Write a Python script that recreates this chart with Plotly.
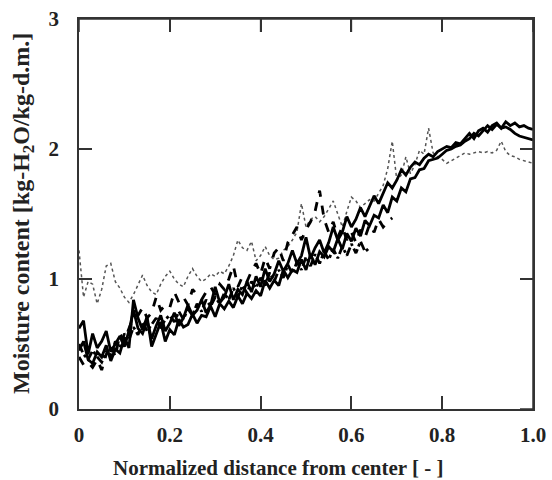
import plotly.graph_objects as go

# normalized distance from center (sampling grid of the profiles)
dist = [0.00, 0.01, 0.02, 0.03, 0.04, 0.05, 0.06, 0.07, 0.08, 0.09,
        0.10, 0.11, 0.12, 0.13, 0.14, 0.15, 0.16, 0.17, 0.18, 0.19,
        0.20, 0.21, 0.22, 0.23, 0.24, 0.25, 0.26, 0.27, 0.28, 0.29,
        0.30, 0.31, 0.32, 0.33, 0.34, 0.35, 0.36, 0.37, 0.38, 0.39,
        0.40, 0.41, 0.42, 0.43, 0.44, 0.45, 0.46, 0.47, 0.48, 0.49,
        0.50, 0.51, 0.52, 0.53, 0.54, 0.55, 0.56, 0.57, 0.58, 0.59,
        0.60, 0.61, 0.62, 0.63, 0.64, 0.65, 0.66, 0.67, 0.68, 0.69,
        0.70, 0.71, 0.72, 0.73, 0.74, 0.75, 0.76, 0.77, 0.78, 0.79,
        0.80, 0.81, 0.82, 0.83, 0.84, 0.85, 0.86, 0.87, 0.88, 0.89,
        0.90, 0.91, 0.92, 0.93, 0.94, 0.95, 0.96, 0.97, 0.98, 0.99,
        1.00]

# moisture profiles [kg-H2O/kg-d.m.]
dotted = [1.22, 0.86, 0.98, 0.96, 0.81, 0.92, 1.10, 1.12, 0.98, 0.93,
          0.86, 0.82, 0.88, 0.96, 1.03, 0.95, 0.90, 0.88, 0.96, 1.02,
          1.06, 1.00, 0.96, 0.94, 1.02, 1.08, 1.02, 0.98, 1.00, 1.04,
          1.02, 1.06, 1.04, 1.10, 1.18, 1.30, 1.24, 1.22, 1.29, 1.14,
          1.18, 1.25, 1.18, 1.15, 1.16, 1.22, 1.25, 1.30, 1.36, 1.58,
          1.40, 1.46, 1.48, 1.44, 1.48, 1.54, 1.60, 1.50, 1.40, 1.52,
          1.63, 1.60, 1.55, 1.58, 1.61, 1.60, 1.66, 1.72, 1.85, 2.06,
          1.76, 1.80, 1.94, 1.81, 1.88, 1.99, 1.96, 2.16, 1.97, 1.94,
          1.92, 1.89, 1.91, 1.93, 1.95, 1.97, 1.96, 1.97, 1.98, 1.97,
          1.98, 1.97, 1.99, 2.06, 1.98, 1.95, 1.94, 1.92, 1.91, 1.90,
          1.89]

solid_a = [0.62, 0.68, 0.42, 0.58, 0.47, 0.52, 0.60, 0.44, 0.50, 0.56,
           0.48, 0.60, 0.76, 0.62, 0.58, 0.68, 0.54, 0.64, 0.72, 0.60,
           0.66, 0.74, 0.64, 0.70, 0.80, 0.72, 0.76, 0.84, 0.74, 0.80,
           0.94, 0.82, 0.86, 0.96, 0.84, 0.92, 0.88, 0.98, 0.90, 1.02,
           0.94, 1.08, 0.98, 1.04, 1.14, 1.06, 1.12, 1.22, 1.12, 1.18,
           1.32, 1.16, 1.24, 1.30, 1.20, 1.28, 1.40, 1.30, 1.36, 1.48,
           1.40, 1.46, 1.55, 1.48, 1.56, 1.64, 1.58, 1.66, 1.74, 1.70,
           1.76, 1.84, 1.80, 1.86, 1.90, 1.88, 1.93, 1.96, 1.94, 1.98,
           2.00, 2.02, 2.01, 2.05, 2.04, 2.08, 2.12, 2.08, 2.14, 2.16,
           2.13, 2.18, 2.20, 2.16, 2.21, 2.18, 2.20, 2.17, 2.18, 2.16,
           2.15]

solid_b = [0.45, 0.52, 0.38, 0.35, 0.44, 0.40, 0.49, 0.37, 0.46, 0.43,
           0.55, 0.47, 0.84, 0.70, 0.61, 0.71, 0.48, 0.57, 0.67, 0.52,
           0.61, 0.57, 0.69, 0.63, 0.65, 0.73, 0.66, 0.72, 0.71, 0.79,
           0.71, 0.81, 0.77, 0.83, 0.78, 0.87, 0.81, 0.89, 0.85, 0.91,
           0.87, 0.99, 0.93, 0.99, 0.95, 1.07, 1.01, 1.07, 1.05, 1.15,
           1.07, 1.19, 1.11, 1.21, 1.17, 1.25, 1.21, 1.31, 1.23, 1.35,
           1.29, 1.39, 1.33, 1.45, 1.41, 1.49, 1.47, 1.57, 1.51, 1.63,
           1.60, 1.70, 1.67, 1.77, 1.78, 1.84, 1.85, 1.91, 1.92, 1.93,
           1.96, 1.99, 2.00, 2.02, 2.03, 2.06, 2.08, 2.12, 2.10, 2.14,
           2.18, 2.15, 2.19, 2.16, 2.17, 2.15, 2.12, 2.10, 2.09, 2.08,
           2.07]

dashed = [0.40, 0.34, 0.36, 0.32, 0.38, 0.30, 0.42, 0.50, 0.40, 0.58,
          0.52, 0.62, 0.70, 0.72, 0.78, 0.70, 0.74, 0.86, 0.76, 0.80,
          0.78, 0.90, 0.82, 0.86, 0.80, 0.92, 0.88, 0.84, 0.90, 0.94,
          0.88, 0.96, 0.92, 1.00, 1.10, 0.94, 1.02, 0.98, 1.06, 1.12,
          1.04, 1.16, 1.08, 1.20, 1.24, 1.14, 1.28, 1.34, 1.40, 1.30,
          1.38, 1.44, 1.52, 1.68, 1.46, 1.36, 1.44, 1.32, 1.40, 1.30,
          1.36, 1.28, 1.38, 1.32, 1.42, 1.36, 1.46, 1.40, 1.44, 1.47]

dashdot = [0.50, 0.42, 0.38, 0.45, 0.40, 0.36, 0.44, 0.41, 0.52, 0.47,
           0.58, 0.53, 0.63, 0.57, 0.67, 0.60, 0.65, 0.70, 0.62, 0.69,
           0.72, 0.67, 0.75, 0.69, 0.77, 0.72, 0.81, 0.75, 0.84, 0.79,
           0.86, 0.81, 0.89, 0.84, 0.93, 0.86, 0.95, 0.89, 0.98, 0.93,
           1.01, 0.95, 1.05, 0.98, 1.07, 1.01, 1.11, 1.04, 1.13, 1.07,
           1.17, 1.10, 1.19, 1.12, 1.21, 1.15, 1.23, 1.16, 1.25, 1.18,
           1.27, 1.20, 1.29, 1.21, 1.24]

xticks = [0, 0.2, 0.4, 0.6, 0.8, 1.0]
xticktext = ["0", "0.2", "0.4", "0.6", "0.8", "1.0"]
yticks = [0, 1, 2, 3]

fig = go.Figure()
fig.add_trace(go.Scatter(x=dist, y=dotted, mode="lines",
                         line=dict(color="#555555", width=1.5, dash="dot")))
fig.add_trace(go.Scatter(x=dist[:len(dashdot)], y=dashdot, mode="lines",
                         line=dict(color="black", width=2.8, dash="dashdot")))
fig.add_trace(go.Scatter(x=dist[:len(dashed)], y=dashed, mode="lines",
                         line=dict(color="black", width=2.8, dash="dash")))
fig.add_trace(go.Scatter(x=dist, y=solid_b, mode="lines",
                         line=dict(color="black", width=2.8)))
fig.add_trace(go.Scatter(x=dist, y=solid_a, mode="lines",
                         line=dict(color="black", width=2.8)))

font = "Liberation Serif, Times New Roman, serif"
bold = dict(family=font, size=21, color="#222222", weight="bold")
frame = dict(color="#333333", width=1.5)
axis = dict(showline=True, linecolor="#333333", linewidth=1.5, mirror="allticks",
            ticks="inside", ticklen=13, tickwidth=1.5, tickcolor="#333333",
            showgrid=False, zeroline=False, automargin=False, tickfont=bold)

fig.update_layout(
    width=552, height=480,
    margin=dict(l=79, r=19, t=19, b=71),
    paper_bgcolor="white", plot_bgcolor="white",
    showlegend=False,
    font=dict(family=font, color="#222222"),
    xaxis=dict(axis, range=[0, 1.0], tickvals=xticks, ticktext=xticktext,
               ticklabelstandoff=6),
    yaxis=dict(axis, range=[0, 3], tickvals=yticks, ticklabelstandoff=14),
)

# axis titles as annotations
fig.add_annotation(text="Normalized distance from center [ - ]",
                   xref="paper", yref="paper", x=0.438, y=0, yshift=-59,
                   xanchor="center", yanchor="middle", showarrow=False,
                   font=dict(bold, size=21))
fig.add_annotation(text="Moisture content [kg-H<sub>2</sub>O/kg-d.m.]",
                   xref="paper", yref="paper", x=0, y=0.5, xshift=-56,
                   xanchor="center", yanchor="middle", textangle=-90,
                   showarrow=False, font=dict(bold, size=24))

# top and right frame with inward ticks
fig.add_shape(type="line", xref="paper", yref="paper", x0=0, x1=1, y0=1, y1=1, line=frame)
fig.add_shape(type="line", xref="paper", yref="paper", x0=1, x1=1, y0=0, y1=1, line=frame)
for v in xticks:
    fig.add_shape(type="line", xref="x", yref="paper", x0=v, x1=v,
                  y0=1, y1=1 - 13 / 390, line=frame)
for v in yticks:
    fig.add_shape(type="line", xref="paper", yref="y", x0=1, x1=1 - 13 / 454,
                  y0=v, y1=v, line=frame)

# drop the default 8px page margin so the figure sits at the window's corner
fig.write_html("out.html", config={"displayModeBar": False},
               post_script="document.body.style.margin='0';"
                           "document.body.style.overflow='hidden';")
